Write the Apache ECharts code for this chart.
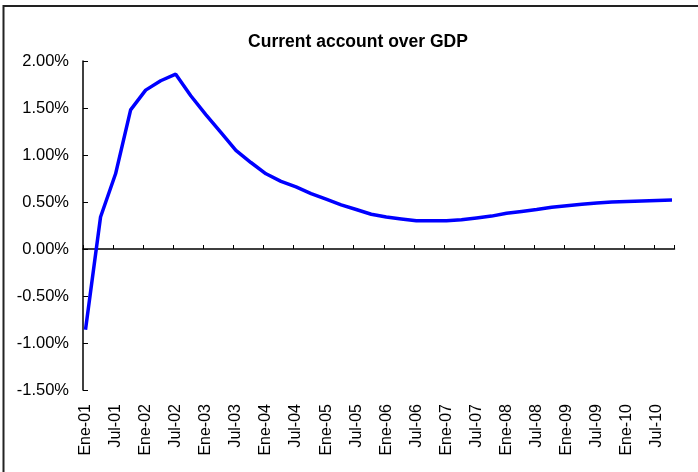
<!DOCTYPE html>
<html>
<head>
<meta charset="utf-8">
<script src="https://cdn.jsdelivr.net/npm/echarts@6/dist/echarts.min.js"></script>
<style>
html,body{margin:0;padding:0;background:#fff;}
#chart{width:698px;height:472px;}
</style>
</head>
<body>
<div id="chart"></div>
<script>
// Tick label parts
var years = ['01','02','03','04','05','06','07','08','09','10'];
var monthNames = ['Ene','Feb','Mar','Abr','May','Jun','Jul','Ago','Sep','Oct','Nov','Dic'];
var monthCount = 118; // Ene-01 .. Oct-10

// Quarterly values (% of GDP), Ene-01 .. Oct-10
var currentAccount = [
  -0.86, 0.34, 0.80, 1.48, 1.69, 1.79, 1.86, 1.63,
   1.43, 1.24, 1.05, 0.92, 0.80, 0.72, 0.66, 0.59,
   0.53, 0.47, 0.42, 0.37, 0.34, 0.32, 0.30, 0.30,
   0.30, 0.31, 0.33, 0.35, 0.38, 0.40, 0.42, 0.445,
   0.46, 0.475, 0.49, 0.50, 0.505, 0.51, 0.515, 0.52
];

var categories = [];
for (var i = 0; i < monthCount; i++) {
  categories.push(monthNames[i % 12] + '-' + years[Math.floor(i / 12)]);
}
var seriesData = currentAccount.map(function (v, q) { return [q * 3, v]; });

var chart = echarts.init(document.getElementById('chart'));
var font = 'Liberation Sans, Arial, sans-serif';
chart.setOption({
  animation: false,
  backgroundColor: '#fff',
  title: {
    text: 'Current account over GDP',
    left: 353,
    textAlign: 'center',
    top: 28,
    textStyle: { fontFamily: font, fontSize: 17.5, fontWeight: 'bold', color: '#000' }
  },
  graphic: [{
    type: 'rect',
    shape: { x: 3.5, y: 6, width: 1000, height: 1000 },
    style: { fill: 'none', stroke: '#222', lineWidth: 2 },
    silent: true
  }],
  grid: { left: 83, right: 23.5, top: 61, bottom: 82, containLabel: false },
  xAxis: [{
    type: 'category',
    data: categories,
    boundaryGap: true,
    position: 'bottom',
    axisLine: { show: true, onZero: true, lineStyle: { color: '#000', width: 1.5 } },
    axisTick: { show: true, inside: true, length: 4, interval: function (i) { return i % 6 === 0; }, lineStyle: { color: '#000' } },
    axisLabel: { show: false },
    splitLine: { show: false }
  }, {
    type: 'category',
    data: categories,
    boundaryGap: true,
    position: 'bottom',
    axisLine: { show: false, onZero: false },
    axisTick: { show: false },
    axisLabel: {
      show: true, rotate: 90, margin: 14, interval: 5,
      fontFamily: font, fontSize: 16, color: '#000'
    },
    splitLine: { show: false }
  }],
  yAxis: {
    type: 'value',
    min: -1.5, max: 2.0, interval: 0.5,
    axisLine: { show: true, lineStyle: { color: '#000', width: 1.5 } },
    axisTick: { show: true, inside: true, length: 5, lineStyle: { color: '#000' } },
    axisLabel: {
      margin: 14, fontFamily: font, fontSize: 16.5, color: '#000',
      formatter: function (v) { return v.toFixed(2) + '%'; }
    },
    splitLine: { show: false }
  },
  series: [{
    type: 'line',
    xAxisIndex: 0,
    data: seriesData,
    showSymbol: false,
    symbol: 'none',
    lineStyle: { color: '#0000FF', width: 3.5 },
    itemStyle: { color: '#0000FF' }
  }]
});
</script>
</body>
</html>
